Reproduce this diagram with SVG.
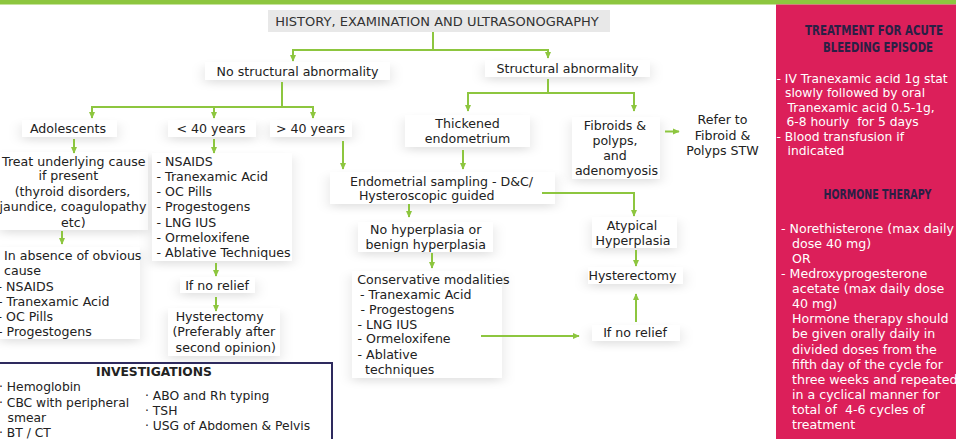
<svg xmlns="http://www.w3.org/2000/svg" width="956" height="439" viewBox="0 0 956 439">
<style>
text{font-family:"DejaVu Sans","Liberation Sans",sans-serif;font-size:12.6px;fill:#222}
.c{text-anchor:middle}
.hd{font-size:13px;fill:#333}
.w{fill:#fff;font-size:12.3px}
.w2{fill:#fff;font-size:12.6px}
.ph{font-family:"DejaVu Sans Condensed","DejaVu Sans",sans-serif;font-weight:900;font-size:14px;fill:#2a1f45;text-anchor:middle}
.inv{font-size:12.3px}
.conn path{fill:none;stroke:#8dc63f;stroke-width:2}
.sh{fill:#fff;filter:url(#sh)}
</style>
<defs>
<filter id="sh" x="-25%" y="-80%" width="150%" height="260%">
<feDropShadow dx="0" dy="4" stdDeviation="7 3.5" flood-color="#000" flood-opacity="0.11"/>
</filter>
<marker id="ah" viewBox="0 0 10 10" refX="9" refY="5" markerWidth="7" markerHeight="7" orient="auto" markerUnits="userSpaceOnUse">
<path d="M0,0.5 L10,5 L0,9.5 z" fill="#8dc63f"/>
</marker>
</defs>
<rect x="0" y="0" width="956" height="439" fill="#fff"/>
<rect x="0" y="0" width="956" height="4.5" fill="#8dc63f"/>

<g id="shadows">
<rect class="sh" x="205" y="62" width="185" height="18"/>
<rect class="sh" x="485" y="60" width="165" height="17"/>
<rect class="sh" x="22" y="120" width="95" height="17"/>
<rect class="sh" x="168" y="120" width="88" height="17"/>
<rect class="sh" x="270" y="120" width="82" height="17"/>
<rect class="sh" x="405" y="115" width="125" height="32"/>
<rect class="sh" x="572" y="117" width="88" height="62"/>
<rect class="sh" x="0" y="152" width="148" height="78"/>
<rect class="sh" x="0" y="247" width="140" height="92"/>
<rect class="sh" x="152" y="153" width="140" height="108"/>
<rect class="sh" x="180" y="277" width="75" height="16"/>
<rect class="sh" x="168" y="308" width="112" height="48"/>
<rect class="sh" x="330" y="172" width="225" height="32"/>
<rect class="sh" x="358" y="222" width="135" height="30"/>
<rect class="sh" x="352" y="271" width="150" height="107"/>
<rect class="sh" x="592" y="217" width="85" height="31"/>
<rect class="sh" x="588" y="267" width="95" height="17"/>
<rect class="sh" x="592" y="325" width="88" height="16"/>
</g>

<g id="history">
<rect x="268" y="10" width="342" height="22" fill="#e8e8e8"/>
<text class="hd c" x="437" y="26">HISTORY, EXAMINATION AND ULTRASONOGRAPHY</text>
</g>
<g id="no-structural"><text class="c" x="297.5" y="76">No structural abnormality</text></g>
<g id="structural"><text class="c" x="567.5" y="73">Structural abnormality</text></g>
<g id="adolescents"><text class="c" x="68" y="133">Adolescents</text></g>
<g id="under40"><text class="c" x="211" y="133">&lt; 40 years</text></g>
<g id="over40"><text class="c" x="310.5" y="133">&gt; 40 years</text></g>
<g id="thickened">
<text class="c" x="467.5" y="128">Thickened</text>
<text class="c" x="467.5" y="143">endometrium</text>
</g>
<g id="fibroids">
<text class="c" x="615" y="129.5">Fibroids &amp;</text>
<text class="c" x="615" y="144.5">polyps,</text>
<text class="c" x="615" y="159.5">and</text>
<text class="c" x="616.5" y="175">adenomyosis</text>
</g>
<g id="refer">
<text class="c" x="722.5" y="124">Refer to</text>
<text class="c" x="722.5" y="139.5">Fibroid &amp;</text>
<text class="c" x="722.5" y="155">Polyps STW</text>
</g>
<g id="treat-cause">
<text class="c" x="73.8" y="165.5">Treat underlying cause</text>
<text class="c" x="68.3" y="180">if present</text>
<text class="c" x="72.5" y="195.5">(thyroid disorders,</text>
<text class="c" x="73" y="211">jaundice, coagulopathy</text>
<text class="c" x="73.3" y="227">etc)</text>
</g>
<g id="absence">
<text x="4" y="259.5">In absence of obvious</text>
<text x="4" y="275">cause</text>
<text x="-2.5" y="290.5">- NSAIDS</text>
<text x="-2" y="305.5">- Tranexamic Acid</text>
<text x="-2.5" y="321">- OC Pills</text>
<text x="-2" y="336">- Progestogens</text>
</g>
<g id="under40-list">
<text x="156.5" y="165.5">- NSAIDS</text>
<text x="156.5" y="181">- Tranexamic Acid</text>
<text x="156.5" y="196">- OC Pills</text>
<text x="156.5" y="211">- Progestogens</text>
<text x="156.5" y="227">- LNG IUS</text>
<text x="156.5" y="242">- Ormeloxifene</text>
<text x="156.5" y="257">- Ablative Techniques</text>
</g>
<g id="no-relief-left"><text class="c" x="217" y="289.5">If no relief</text></g>
<g id="hysterectomy-left">
<text class="c" x="219.7" y="321">Hysterectomy</text>
<text class="c" x="223.8" y="336">(Preferably after</text>
<text class="c" x="225.7" y="352">second opinion)</text>
</g>
<g id="sampling">
<text class="c" x="441.5" y="186">Endometrial sampling - D&amp;C/</text>
<text class="c" x="426.7" y="199.5">Hysteroscopic guided</text>
</g>
<g id="no-hyperplasia">
<text class="c" x="425.8" y="234">No hyperplasia or</text>
<text class="c" x="425.8" y="248.5">benign hyperplasia</text>
</g>
<g id="conservative">
<text x="357.3" y="284">Conservative modalities</text>
<text x="360" y="299">- Tranexamic Acid</text>
<text x="360.5" y="314">- Progestogens</text>
<text x="357.5" y="328.5">- LNG IUS</text>
<text x="357.5" y="343">- Ormeloxifene</text>
<text x="357.5" y="358.5">- Ablative</text>
<text x="365" y="374">techniques</text>
</g>
<g id="atypical">
<text class="c" x="632" y="229.5">Atypical</text>
<text class="c" x="633" y="244.5">Hyperplasia</text>
</g>
<g id="hysterectomy-right"><text class="c" x="632.5" y="279.5">Hysterectomy</text></g>
<g id="no-relief-right"><text class="c" x="635" y="337">If no relief</text></g>

<g id="investigations">
<rect x="-2" y="363" width="334" height="82" fill="#fff" stroke="#2e2a5e" stroke-width="2"/>
<text class="c inv" x="154" y="375.5" font-weight="bold">INVESTIGATIONS</text>
<text class="inv" x="-1" y="391">· Hemoglobin</text>
<text class="inv" x="-1" y="406.5">· CBC with peripheral</text>
<text class="inv" x="7.5" y="421.7">smear</text>
<text class="inv" x="-1" y="437">· BT / CT</text>
<text class="inv" x="145" y="399.5">· ABO and Rh typing</text>
<text class="inv" x="145" y="414.5">· TSH</text>
<text class="inv" x="145" y="429.5">· USG of Abdomen &amp; Pelvis</text>
</g>

<g id="side-panel">
<rect x="776" y="4.5" width="180" height="434.5" fill="#dc1f5a"/>
<text class="ph" x="874" y="35" textLength="138" lengthAdjust="spacingAndGlyphs">TREATMENT FOR ACUTE</text>
<text class="ph" x="878" y="51.5" textLength="110" lengthAdjust="spacingAndGlyphs">BLEEDING EPISODE</text>
<text class="w" x="776.5" y="82.5">- IV Tranexamic acid 1g stat</text>
<text class="w" x="785" y="97">slowly followed by oral</text>
<text class="w" x="787.5" y="111.5">Tranexamic acid 0.5-1g,</text>
<text class="w" x="786.5" y="126" xml:space="preserve">6-8 hourly  for 5 days</text>
<text class="w" x="776.5" y="140.5">- Blood transfusion if</text>
<text class="w" x="787.5" y="155">indicated</text>
<text class="ph" x="877.5" y="198.5" textLength="108" lengthAdjust="spacingAndGlyphs">HORMONE THERAPY</text>
<text class="w2" x="781" y="233">- Norethisterone (max daily</text>
<text class="w2" x="792" y="248">dose 40 mg)</text>
<text class="w2" x="792" y="262.5">OR</text>
<text class="w2" x="781" y="278">- Medroxyprogesterone</text>
<text class="w2" x="792" y="293">acetate (max daily dose</text>
<text class="w2" x="792" y="308">40 mg)</text>
<text class="w2" x="792" y="323">Hormone therapy should</text>
<text class="w2" x="792" y="338">be given orally daily in</text>
<text class="w2" x="792" y="353.5">divided doses from the</text>
<text class="w2" x="792" y="368.5">fifth day of the cycle for</text>
<text class="w2" x="792" y="384">three weeks and repeated</text>
<text class="w2" x="792" y="399">in a cyclical manner for</text>
<text class="w2" x="792" y="413.5" xml:space="preserve">total of  4-6 cycles of</text>
<text class="w2" x="792" y="429">treatment</text>
</g>

<g id="connectors" class="conn">
<path d="M433,32 V50 H293 V61" marker-end="url(#ah)"/>
<path d="M433,50 H548 V58" marker-end="url(#ah)"/>
<path d="M282,82 V107 H92 V118" marker-end="url(#ah)"/>
<path d="M282,107 H313 V118" marker-end="url(#ah)"/>
<path d="M214,107 V118" marker-end="url(#ah)"/>
<path d="M548,79 V93 H468 V111" marker-end="url(#ah)"/>
<path d="M548,93 H634 V111" marker-end="url(#ah)"/>
<path d="M74,139 V153" marker-end="url(#ah)"/>
<path d="M214,139 V153" marker-end="url(#ah)"/>
<path d="M343,141 V169" marker-end="url(#ah)"/>
<path d="M463,150 V169" marker-end="url(#ah)"/>
<path d="M665,131.5 H679" marker-end="url(#ah)"/>
<path d="M62,231 V244" marker-end="url(#ah)"/>
<path d="M216,263 V276" marker-end="url(#ah)"/>
<path d="M216,297 V311" marker-end="url(#ah)"/>
<path d="M409,204 V217" marker-end="url(#ah)"/>
<path d="M542,193 H634 V216" marker-end="url(#ah)"/>
<path d="M432,253 V268" marker-end="url(#ah)"/>
<path d="M636,250 V266" marker-end="url(#ah)"/>
<path d="M481,336 H579" marker-end="url(#ah)"/>
<path d="M636,322 V294" marker-end="url(#ah)"/>
</g>
</svg>
